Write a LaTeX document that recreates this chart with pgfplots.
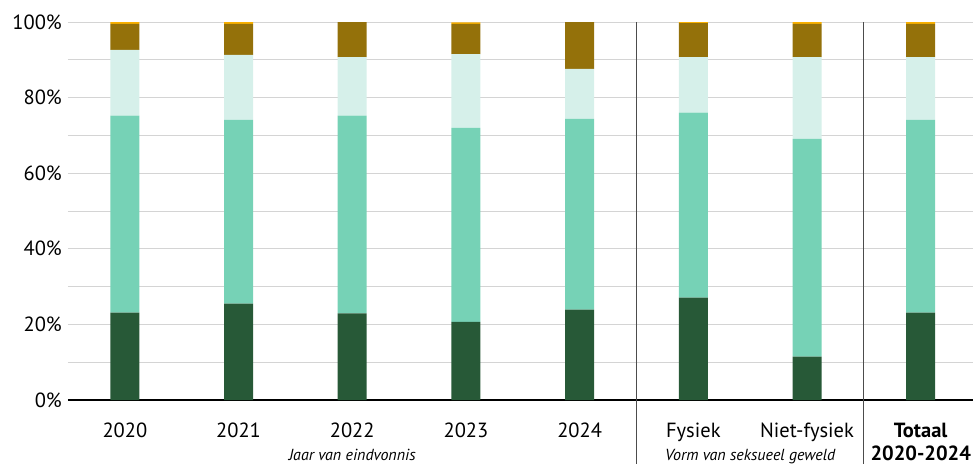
\documentclass[border=0pt]{standalone}
\usepackage{pgfplots}
\pgfplotsset{compat=1.18}
\usepackage{fontspec}
\setmainfont{PT Sans}
\definecolor{cdark}{HTML}{275937}
\definecolor{cmid}{HTML}{76D2B6}
\definecolor{clight}{HTML}{D6F0EA}
\definecolor{cbrown}{HTML}{94710A}
\definecolor{cyellow}{HTML}{F9B000}
\definecolor{cgrid}{HTML}{D4D4D4}
\begin{document}
\begin{tikzpicture}
\begin{axis}[
  name=ax,
  scale only axis, width=905pt, height=378pt,
  xmin=-0.5, xmax=7.46, ymin=0, ymax=100,
  ybar stacked, bar width=0.255,
  axis x line*=bottom, axis y line*=left,
  y axis line style={draw=none},
  x axis line style={black, line width=1.1pt},
  ytick={0,20,...,100}, minor ytick={10,30,...,90},
  ymajorgrids, yminorgrids,
  major grid style={draw=cgrid, line width=1pt},
  minor grid style={draw=cgrid, line width=1pt},
  major tick length=0pt, minor tick length=0pt,
  yticklabel={\pgfmathprintnumber{\tick}\%},
  /pgf/number format/assume math mode=true,
  xtick={0,...,7},
  xticklabels={2020,2021,2022,2023,2024,Fysiek,Niet-fysiek,\textbf{Totaal}},
  tick label style={font=\fontsize{20.5}{24}\selectfont},
  yticklabel style={anchor=east, inner sep=0pt, xshift=-6pt},
  xticklabel style={anchor=base, inner sep=0pt, yshift=-37pt},
  clip=false,
]
\addplot[fill=cdark, draw=none] coordinates {(0,23.1) (1,25.5) (2,22.9) (3,20.7) (4,23.9) (5,27.1) (6,11.5) (7,23.1)};
\addplot[fill=cmid, draw=none] coordinates {(0,52.1) (1,48.6) (2,52.3) (3,51.3) (4,50.5) (5,48.9) (6,57.6) (7,51.0)};
\addplot[fill=clight, draw=none] coordinates {(0,17.4) (1,17.2) (2,15.5) (3,19.5) (4,13.2) (5,14.7) (6,21.6) (7,16.6)};
\addplot[fill=cbrown, draw=none] coordinates {(0,6.9) (1,8.2) (2,9.3) (3,8.0) (4,12.4) (5,9.0) (6,8.8) (7,8.8)};
\addplot[fill=cyellow, draw=none] coordinates {(0,0.5) (1,0.5) (2,0) (3,0.4) (4,0) (5,0.3) (6,0.5) (7,0.5)};
\draw[color=black!70, line width=1pt] (axis cs:4.5,100) -- ([yshift=-64pt]axis cs:4.5,0);
\draw[color=black!70, line width=1pt] (axis cs:6.5,100) -- ([yshift=-64pt]axis cs:6.5,0);
\node[anchor=base, font=\itshape\fontsize{16}{19}\selectfont] at ([yshift=-60pt]axis cs:2,0) {Jaar van eindvonnis};
\node[anchor=base, font=\itshape\fontsize{16}{19}\selectfont] at ([yshift=-60pt]axis cs:5.5,0) {Vorm van seksueel geweld};
\node[anchor=base, font=\bfseries\fontsize{20.5}{24}\selectfont] at ([yshift=-60pt]axis cs:7,0) {2020-2024};
\end{axis}
\pgfresetboundingbox
\path ([shift={(-68pt,-64pt)}]ax.south west) rectangle ([yshift=22pt]ax.north east);
\end{tikzpicture}
\end{document}
